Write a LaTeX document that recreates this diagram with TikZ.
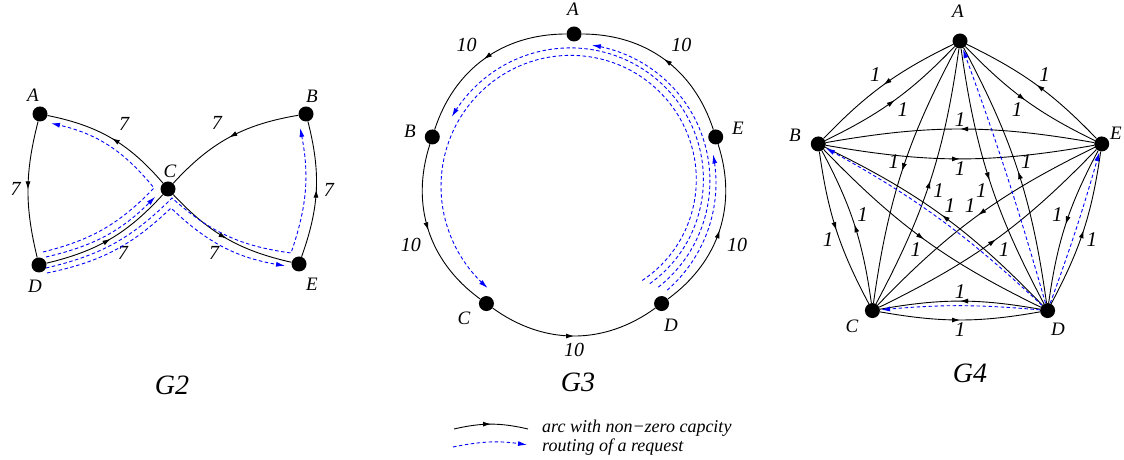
\documentclass[tikz,border=0pt]{standalone}
\usepackage{fontspec}
\setmainfont{Liberation Serif}
\usetikzlibrary{arrows.meta,decorations.markings}

\tikzset{
  vertex/.style={circle,fill=black,inner sep=0pt,minimum size=15pt},
  vname/.style={font=\fontsize{19}{22}\selectfont\itshape},
  caplabel/.style={font=\fontsize{20}{23}\selectfont\itshape,auto=right,inner sep=7pt},
  caplabelfour/.style={caplabel,font=\fontsize{21}{24}\selectfont\itshape,inner sep=2.5pt},
  caparc/.style={line width=0.9pt,postaction={decorate},
    decoration={markings,mark=at position 0.5 with {\arrow{Latex[length=8pt,width=5pt]}}}},
  reqroute/.style={blue,line width=0.9pt,dash pattern=on 3.5pt off 2.5pt,
    -{Latex[length=9pt,width=5pt]},shorten >=1pt},
  graphtitle/.style={font=\fontsize{28}{32}\selectfont\itshape},
  keytext/.style={font=\fontsize{18}{21}\selectfont\itshape,anchor=base west,inner sep=0pt},
}

\begin{document}
\begin{tikzpicture}[x=1pt,y=1pt]
\useasboundingbox (0,0) rectangle (1124,460);

% G2: bow tie
\node[vertex] (A2) at (40,346) {};
\node[vertex] (B2) at (306,346) {};
\node[vertex] (C2) at (168,271) {};
\node[vertex] (D2) at (39,195) {};
\node[vertex] (E2) at (299,196) {};
\node[vname] (A2l) at (33,365) {A};
\node[vname] (B2l) at (312,364) {B};
\node[vname] (C2l) at (170,289) {C};
\node[vname] (D2l) at (35,174) {D};
\node[vname] (E2l) at (312,176) {E};

\draw[caparc] (A2) to[bend right=14] node[caplabel] {7} (D2);
\draw[caparc] (D2) to[bend right=17] node[caplabel] {7} (C2);
\draw[caparc] (C2) to[bend right=19] node[caplabel] {7} (A2);
\draw[caparc] (B2) to[bend right=19] node[caplabel] {7} (C2);
\draw[caparc] (C2) to[bend right=17] node[caplabel] {7} (E2);
\draw[caparc] (E2) to[bend right=17] node[caplabel] {7} (B2);

% requests from D
\coordinate (da0) at (43,208);  \coordinate (da1) at (154,272); \coordinate (da2) at (50,337);
\coordinate (dc0) at (46,203);  \coordinate (dc1) at (156,264);
\coordinate (db0) at (46,192);  \coordinate (db1) at (172,262);
\coordinate (db2) at (291,207); \coordinate (db3) at (300,333);
\coordinate (de0) at (47,187);  \coordinate (de1) at (171,252); \coordinate (de2) at (286,194);
\draw[reqroute] (da0) to[bend right=16] (da1) to[bend right=19] (da2);
\draw[reqroute] (dc0) to[bend right=16] (dc1);
\draw[reqroute] (db0) to[bend right=16] (db1) to[bend right=17] (db2) to[bend right=15] (db3);
\draw[reqroute] (de0) to[bend right=16] (de1) to[bend right=17] (de2);

\node[graphtitle] (G2t) at (172,75) {G2};

% G3: ring
\begin{scope}[shift={(574,277)}]
  \foreach \n/\a in {A/90,B/162,C/234,D/306,E/18}
    \node[vertex] (\n3) at (\a:149) {};
  % requests from D, counter-clockwise
  \draw[reqroute] plot[domain=-49:12,samples=30] (\x:142);
  \draw[reqroute] plot[domain=-51:83,samples=60] (\x:{134+5*(\x+51)/134});
  \draw[reqroute] plot[domain=-53:152,samples=80] (\x:{126+13*(\x+53)/205});
  \draw[reqroute] plot[domain=-55:231,samples=100] (\x:{119+17*(\x+55)/286});
\end{scope}
\node[vname] (A3l) at (573,451) {A};
\node[vname] (B3l) at (410,329) {B};
\node[vname] (C3l) at (464,142) {C};
\node[vname] (D3l) at (671,135) {D};
\node[vname] (E3l) at (738,332) {E};
\foreach \src/\dst in {A/B,B/C,C/D,D/E,E/A}
  \draw[caparc] (\src3) to[bend right=36] node[caplabel] {10} (\dst3);

\node[graphtitle] (G3t) at (578,78) {G3};

% G4: complete digraph
\begin{scope}[shift={(960,270)}]
  \foreach \n/\a in {A/90,B/162,C/234,D/306,E/18}
    \node[vertex] (\n4) at (\a:149) {};
\end{scope}
\node[vname] (A4l) at (958,449) {A};
\node[vname] (B4l) at (795,325) {B};
\node[vname] (C4l) at (852,134) {C};
\node[vname] (D4l) at (1058,131) {D};
\node[vname] (E4l) at (1116,327) {E};
\foreach \src in {A,B,C,D,E}
  \foreach \dst in {A,B,C,D,E}
    {\ifx\src\dst\else
       \draw[caparc] (\src4) to[bend right=10] node[caplabelfour] {1} (\dst4);
     \fi}
\draw[reqroute] (D4) to[bend right=2] (A4);
\draw[reqroute] (D4) to[bend right=7] (B4);
\draw[reqroute] (D4) to[bend right=5] (C4);
\draw[reqroute] (D4) to[bend right=2] (E4);

\node[graphtitle] (G4t) at (970,87) {G4};

% legend
\coordinate (key1a) at (454,31);
\coordinate (key1b) at (528,31);
\draw[caparc] (key1a) to[bend left=13] (key1b);
\node[keytext] (key1t) at (542,27) {arc with non−zero capcity};
\coordinate (key2a) at (453,13);
\coordinate (key2b) at (528,15);
\draw[reqroute] (key2a) to[bend left=10] (key2b);
\node[keytext] (key2t) at (542,8) {routing of a request};
\end{tikzpicture}
\end{document}
